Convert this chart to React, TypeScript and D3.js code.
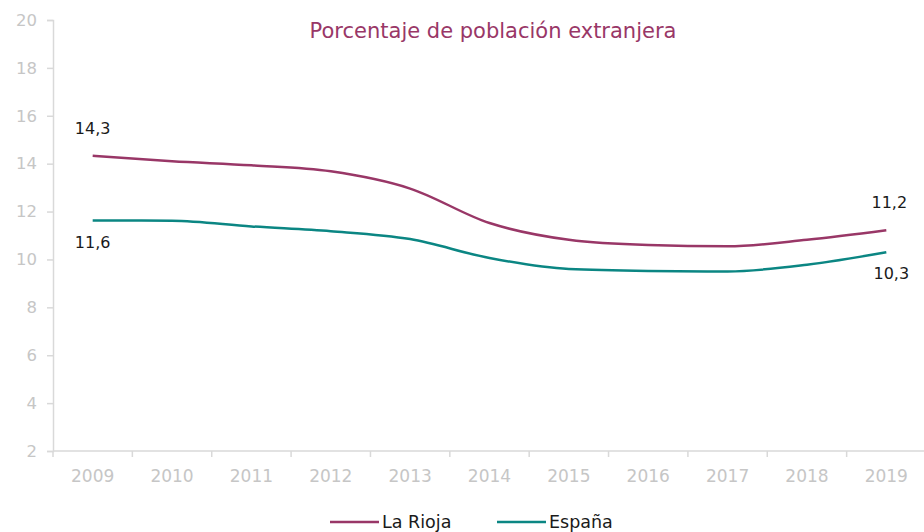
import { useEffect, useRef } from 'react'
import * as d3 from 'd3'

// Porcentaje de población extranjera, La Rioja vs España
const years = ['2009', '2010', '2011', '2012', '2013', '2014', '2015', '2016', '2017', '2018', '2019']
const laRioja = [14.33, 14.1, 13.93, 13.68, 12.96, 11.52, 10.82, 10.6, 10.55, 10.82, 11.22]
const espana = [11.63, 11.62, 11.38, 11.18, 10.85, 10.06, 9.6, 9.52, 9.5, 9.78, 10.3]
const yTicks = [2, 4, 6, 8, 10, 12, 14, 16, 18, 20]

const COLORS = { rioja: '#993767', espana: '#0b8683', axis: '#d9d9d9', tick: '#c6c6c6', text: '#1a1a1a' }
const FONT = '"DejaVu Sans", Verdana, sans-serif'

function App() {
  const ref = useRef<SVGSVGElement | null>(null)

  useEffect(() => {
    if (!ref.current) return
    const svg = d3.select(ref.current)
    svg.selectAll('*').remove()

    const width = 924
    const height = 532
    const margin = { top: 20, right: -2, bottom: 81, left: 53 }

    const x = d3.scaleBand()
      .domain(years)
      .range([margin.left, width - margin.right])

    const y = d3.scaleLinear()
      .domain([2, 20])
      .range([height - margin.bottom, margin.top])

    const cx = (d: string) => (x(d) ?? 0) + x.bandwidth() / 2

    // Y axis
    const yAxis = svg.append('g')
      .attr('transform', `translate(${margin.left},0)`)
      .call(d3.axisLeft(y).tickValues(yTicks).tickSize(6).tickPadding(10).tickFormat(d3.format('d')))
    yAxis.selectAll('path, line').attr('stroke', COLORS.axis).attr('stroke-width', 1.5)
    yAxis.selectAll('text').attr('fill', COLORS.tick).attr('font-size', 16.5).attr('font-family', FONT)

    // X axis with ticks at band edges
    const xAxis = svg.append('g')
      .attr('transform', `translate(0,${y(2)})`)
    xAxis.append('line')
      .attr('x1', margin.left).attr('x2', width)
      .attr('stroke', COLORS.axis).attr('stroke-width', 1.5)
    xAxis.selectAll('.edge')
      .data(years)
      .enter()
      .append('line')
      .attr('x1', d => x(d) ?? 0).attr('x2', d => x(d) ?? 0)
      .attr('y1', 0).attr('y2', 6)
      .attr('stroke', COLORS.axis).attr('stroke-width', 1.5)
    xAxis.selectAll('.lbl')
      .data(years)
      .enter()
      .append('text')
      .attr('x', d => cx(d))
      .attr('y', 31)
      .attr('text-anchor', 'middle')
      .attr('fill', COLORS.tick)
      .attr('font-size', 17)
      .attr('font-family', FONT)
      .text(d => d)

    // Lines
    const line = d3.line<number>()
      .x((_, i) => cx(years[i]))
      .y(d => y(d))
      .curve(d3.curveMonotoneX)

    svg.append('path').datum(laRioja)
      .attr('d', line).attr('fill', 'none')
      .attr('stroke', COLORS.rioja).attr('stroke-width', 2.5)
    svg.append('path').datum(espana)
      .attr('d', line).attr('fill', 'none')
      .attr('stroke', COLORS.espana).attr('stroke-width', 2.5)

    // Data labels for first and last points
    const fmt = (v: number) => (Math.round(v * 10) / 10).toFixed(1).replace('.', ',')
    const last = years.length - 1
    const labels = [
      { x: cx(years[0]), y: y(laRioja[0]) - 22, v: laRioja[0] },
      { x: cx(years[0]), y: y(espana[0]) + 28, v: espana[0] },
      { x: cx(years[last]) + 3, y: y(laRioja[last]) - 22, v: laRioja[last] },
      { x: cx(years[last]) + 5, y: y(espana[last]) + 27, v: espana[last] },
    ]
    svg.selectAll('.dl')
      .data(labels)
      .enter()
      .append('text')
      .attr('x', d => d.x)
      .attr('y', d => d.y)
      .attr('text-anchor', 'middle')
      .attr('fill', COLORS.text)
      .attr('font-size', 16)
      .attr('font-family', FONT)
      .text(d => fmt(d.v))

    // Title
    svg.append('text')
      .attr('x', 493)
      .attr('y', 38)
      .attr('text-anchor', 'middle')
      .attr('fill', COLORS.rioja)
      .attr('font-size', 21)
      .attr('font-family', FONT)
      .text('Porcentaje de población extranjera')

    // Legend
    const legend = [
      { name: 'La Rioja', color: COLORS.rioja, x: 330 },
      { name: 'España', color: COLORS.espana, x: 497 },
    ]
    const lg = svg.append('g').attr('transform', 'translate(0,522)')
    legend.forEach(item => {
      lg.append('line')
        .attr('x1', item.x).attr('x2', item.x + 49)
        .attr('stroke', item.color).attr('stroke-width', 2.5)
      lg.append('text')
        .attr('x', item.x + 52)
        .attr('y', 6)
        .attr('fill', COLORS.text)
        .attr('font-size', 17.5)
        .attr('font-family', FONT)
        .text(item.name)
    })
  }, [])

  return (
    <svg
      ref={ref}
      width={924}
      height={532}
      style={{ position: 'absolute', left: 0, top: 0, background: '#fff' }}
    />
  )
}

export default App
